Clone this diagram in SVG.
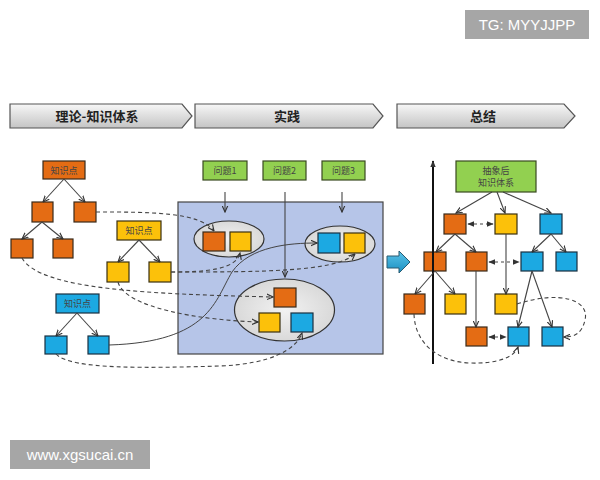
<svg xmlns="http://www.w3.org/2000/svg" width="600" height="480" viewBox="0 0 600 480">
<defs>
<linearGradient id="ban" x1="0" y1="0" x2="0" y2="1"><stop offset="0" stop-color="#f7f7f7"/><stop offset="1" stop-color="#c4c4c4"/></linearGradient>
<radialGradient id="ell" cx="0.5" cy="0.5" r="0.6"><stop offset="0" stop-color="#f2f2f2"/><stop offset="1" stop-color="#d4d4d4"/></radialGradient>
<linearGradient id="barr" x1="0" y1="0" x2="0" y2="1"><stop offset="0" stop-color="#5cc4ea"/><stop offset="1" stop-color="#1a8fc0"/></linearGradient>
<marker id="ah" viewBox="0 0 10 10" refX="9" refY="5" markerWidth="7" markerHeight="7" orient="auto-start-reverse" markerUnits="userSpaceOnUse"><path d="M0,1 L9,5 L0,9" fill="none" stroke="#333" stroke-width="1.6"/></marker>
<marker id="af" viewBox="0 0 10 10" refX="9" refY="5" markerWidth="7" markerHeight="7" orient="auto-start-reverse" markerUnits="userSpaceOnUse"><path d="M0,1 L10,5 L0,9 Z" fill="#333"/></marker>
</defs>
<style>
.o{fill:#e46c14;stroke:#3a2a1a;stroke-width:1.2}
.y{fill:#fcc10a;stroke:#3a3010;stroke-width:1.2}
.b{fill:#1ca9e2;stroke:#1a3040;stroke-width:1.2}
.g{fill:#92d050;stroke:#3a4a20;stroke-width:1.2}
.ban{fill:url(#ban);stroke:#555;stroke-width:1.2}
.bt{font-family:"Noto Sans CJK SC","Noto Sans",sans-serif;font-size:13px;font-weight:bold;fill:#222;text-anchor:middle}
.lt{font-family:"Noto Sans CJK SC","Noto Sans",sans-serif;font-size:9px;fill:#444;text-anchor:middle}
.ln{fill:none;stroke:#444;stroke-width:1.1;marker-end:url(#ah)}
.dl{fill:none;stroke:#444;stroke-width:1.1;stroke-dasharray:4,3;marker-end:url(#ah)}
.dd{fill:none;stroke:#444;stroke-width:1.1;stroke-dasharray:3,3;marker-end:url(#af);marker-start:url(#af)}
.el{fill:url(#ell);stroke:#333;stroke-width:1.2}
.wm{fill:#a6a6a6}
.wt{font-family:"Liberation Sans",Arial,sans-serif;font-size:15px;fill:#fff;text-anchor:middle}
</style>
<rect width="600" height="480" fill="#fff"/>

<g id="watermark-top"><rect class="wm" x="465" y="10" width="124" height="29"/><text class="wt" x="527" y="30">TG: MYYJJPP</text></g>
<g id="watermark-bottom"><rect class="wm" x="10" y="440" width="140" height="29"/><text class="wt" x="80" y="460">www.xgsucai.cn</text></g>

<g id="banner-theory"><path class="ban" d="M10,104 H182 L192,116 L182,128 H10 Z"/><text class="bt" x="97" y="121">理论-知识体系</text></g>
<g id="banner-practice"><path class="ban" d="M195,104 H373 L383,116 L373,128 H195 Z"/><text class="bt" x="287" y="121">实践</text></g>
<g id="banner-summary"><path class="ban" d="M397,104 H564 L575,116 L564,128 H397 Z"/><text class="bt" x="483" y="121">总结</text></g>

<g id="practice-box"><rect x="178" y="202" width="205" height="152" fill="#b6c5e8" stroke="#444" stroke-width="1.2"/></g>

<g id="ellipse1"><ellipse class="el" cx="229" cy="239" rx="35" ry="18"/><rect class="o" x="203" y="232" width="22" height="19"/><rect class="y" x="230" y="232" width="21" height="19"/></g>
<g id="ellipse2"><ellipse class="el" cx="340" cy="244" rx="35" ry="18"/><rect class="b" x="318" y="233" width="22" height="20"/><rect class="y" x="344" y="233" width="21" height="20"/></g>
<g id="ellipse3"><ellipse class="el" cx="284.5" cy="310" rx="50" ry="31"/><rect class="o" x="274" y="288" width="22" height="19"/><rect class="y" x="259" y="313" width="21" height="19"/><rect class="b" x="291" y="313" width="22" height="19"/></g>

<g id="q1"><rect class="g" x="203" y="161" width="44" height="19"/><text class="lt" x="225" y="174">问题1</text></g>
<g id="q2"><rect class="g" x="263" y="161" width="43" height="19"/><text class="lt" x="284.5" y="174">问题2</text></g>
<g id="q3"><rect class="g" x="322" y="161" width="43" height="19"/><text class="lt" x="343.5" y="174">问题3</text></g>

<g id="orange-tree">
<rect class="o" x="43" y="161" width="42" height="18"/><text class="lt" x="64" y="173.5">知识点</text>
<rect class="o" x="32" y="202" width="21" height="20"/>
<rect class="o" x="74" y="202" width="22" height="20"/>
<rect class="o" x="11" y="239" width="22" height="19"/>
<rect class="o" x="53" y="239" width="20" height="19"/>
</g>
<g id="yellow-tree">
<rect class="y" x="117" y="221" width="44" height="19"/><text class="lt" x="139" y="234">知识点</text>
<rect class="y" x="107" y="262" width="22" height="20"/>
<rect class="y" x="149" y="262" width="22" height="20"/>
</g>
<g id="blue-tree">
<rect class="b" x="56" y="294" width="43" height="19"/><text class="lt" x="77.5" y="307">知识点</text>
<rect class="b" x="45" y="336" width="22" height="18"/>
<rect class="b" x="88" y="336" width="21" height="18"/>
</g>

<g id="summary-nodes">
<rect class="g" x="456" y="161" width="80" height="31"/><text class="lt" x="496" y="174">抽象后</text><text class="lt" x="496" y="186">知识体系</text>
<rect class="o" x="444" y="214" width="22" height="20"/>
<rect class="y" x="495" y="214" width="22" height="20"/>
<rect class="b" x="540" y="214" width="22" height="20"/>
<rect class="o" x="424" y="252" width="22" height="19"/>
<rect class="o" x="466" y="252" width="21" height="19"/>
<rect class="b" x="521" y="252" width="22" height="19"/>
<rect class="b" x="556" y="252" width="21" height="19"/>
<rect class="o" x="404" y="294" width="21" height="20"/>
<rect class="y" x="445" y="294" width="21" height="20"/>
<rect class="y" x="495" y="294" width="22" height="20"/>
<rect class="o" x="466" y="327" width="21" height="19"/>
<rect class="b" x="508" y="327" width="21" height="19"/>
<rect class="b" x="542" y="327" width="21" height="19"/>
</g>

<g id="big-arrow"><path d="M387,256 H399 V251 L410,262 L399,273 V268 H387 Z" fill="url(#barr)" stroke="#2a5a70" stroke-width="1"/></g>

<g id="connectors">
<!-- left trees -->
<path class="ln" d="M64,179 L43,202"/>
<path class="ln" d="M64,179 L85,202"/>
<path class="ln" d="M42,222 L22,239"/>
<path class="ln" d="M42,222 L63,239"/>
<path class="ln" d="M139,240 L118,262"/>
<path class="ln" d="M139,240 L160,262"/>
<path class="ln" d="M77,313 L56,336"/>
<path class="ln" d="M77,313 L98,336"/>
<!-- question arrows -->
<path class="ln" d="M225,192 V212"/>
<path class="ln" d="M285,192 V277"/>
<path class="ln" d="M342,192 V212"/>
<!-- dashed from theory to practice -->
<path class="dl" d="M96,212 C150,212 200,212 214,231"/>
<path class="dl" d="M22,258 C40,290 150,294 273,297"/>
<path class="dl" d="M118,282 C125,308 200,320 258,322"/>
<path class="dl" d="M171,272 C205,272 236,270 240,253"/>
<path class="dl" d="M171,272 C260,272 335,272 355,254"/>
<path fill="none" stroke="#444" stroke-width="1" marker-end="url(#ah)" d="M109,345 C210,342 215,300 232,272 C250,246 290,243 317,243"/>
<path class="dl" d="M56,354 C70,370 150,368 220,366 C270,364 296,350 302,333"/>
<!-- summary -->
<path fill="none" stroke="#111" stroke-width="2" marker-end="url(#af)" d="M433,364 V161"/>
<path class="ln" d="M492,192 L456,213"/>
<path class="ln" d="M497,192 L505,213"/>
<path class="ln" d="M503,192 L551,213"/>
<path class="ln" d="M455,234 L436,252"/>
<path class="ln" d="M455,234 L476,252"/>
<path class="dd" d="M468,224 H493"/>
<path class="ln" d="M506,234 V294"/>
<path class="ln" d="M551,234 L532,252"/>
<path class="ln" d="M551,234 L566,252"/>
<path class="ln" d="M435,271 L415,294"/>
<path class="ln" d="M435,271 L455,294"/>
<path class="ln" d="M476,271 V327"/>
<path class="dd" d="M489,262 H519"/>
<path class="ln" d="M532,271 L518,327"/>
<path class="ln" d="M532,271 L552,327"/>
<path class="dd" d="M489,337 H506"/>
<path class="dl" d="M517,304 C560,290 590,300 585,320 C582,333 575,337 564,337"/>
<path class="dl" d="M414,314 C415,345 440,362 470,363 C500,364 515,356 518,347"/>
</g>
</svg>
